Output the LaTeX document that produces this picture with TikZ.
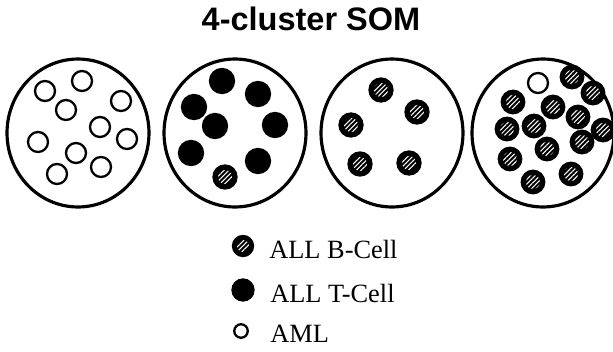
\documentclass[tikz,border=0pt]{standalone}
\usepackage{fontspec}
\setmainfont{Liberation Serif}
\setsansfont{Liberation Sans}
\usetikzlibrary{positioning,shapes.geometric,patterns.meta}

\begin{document}
\begin{tikzpicture}[
    x=0.02cm, y=-0.02cm,
    cluster/.style={ellipse, draw, line width=1.8pt, minimum width=2.84cm, minimum height=2.96cm, inner sep=0pt},
    aml/.style={circle, draw, line width=1.3pt, fill=white, minimum size=0.4cm, inner sep=0pt},
    tcell/.style={circle, draw, line width=1.3pt, fill=black, minimum size=0.48cm, inner sep=0pt},
    bcell/.style={circle, draw, line width=1.3pt, fill=black, minimum size=0.46cm, inner sep=0pt,
        path picture={\fill[pattern={Lines[angle=45, distance=1.9pt, line width=0.6pt]}, pattern color=white]
            (path picture bounding box.center) circle (0.14cm);}},
    legend/.style={anchor=base west, font=\fontsize{15}{17}\selectfont, inner sep=0pt}
]
\useasboundingbox (0,0) rectangle (613,352);

\node[font=\sffamily\bfseries\fontsize{18.5}{20}\selectfont] (title) at (311,19) {4-cluster SOM};

% the four clusters
\node[cluster] (c1) at (78,133) {};
\node[cluster] (c2) at (235,133) {};
\node[cluster] (c3) at (392,133) {};
\node[cluster] (c4) at (543,133) {};

% cluster 1: AML
\foreach \x/\y [count=\i] in {45/91, 82/81, 121/101, 66/110, 100/127, 38/142, 127/139, 76/153, 101/167, 57/174}
    \node[aml] (a\i) at (\x,\y) {};

% cluster 2: T-cells and one B-cell
\foreach \x/\y [count=\i] in {222/81, 258/94, 194/107, 215/126, 275/125, 191/153, 258/161}
    \node[tcell] (t\i) at (\x,\y) {};
\node[bcell] (b0) at (225,177) {};

% cluster 3: B-cells
\foreach \x/\y [count=\i] in {381/90, 417/112, 351/125, 360/164, 409/163}
    \node[bcell] (b\i) at (\x,\y) {};

% cluster 4: B-cells and one AML
\node[aml] (a11) at (538,83) {};
\foreach \x/\y [count=\i] in {572/77, 593/93, 513/102, 553/107, 578/117, 507/129, 534/126, 603/130, 582/142, 547/149, 510/159, 571/174, 533/182}
    \node[bcell, minimum size=0.45cm] (d\i) at (\x,\y) {};

% legend
\node[bcell, minimum size=0.4cm, path picture={\fill[pattern={Lines[angle=45, distance=1.9pt, line width=0.6pt]}, pattern color=white] (path picture bounding box.center) circle (0.12cm);}] (kb) at (243,246) {};
\node[tcell, minimum size=0.42cm] (kt) at (243,290) {};
\node[aml, minimum size=0.27cm] (ka) at (241,331) {};
\node[legend] (lb) at (269,258) {ALL B-Cell};
\node[legend] (lt) at (270,302) {ALL T-Cell};
\node[legend] (la) at (270,342) {AML};

\end{tikzpicture}
\end{document}
